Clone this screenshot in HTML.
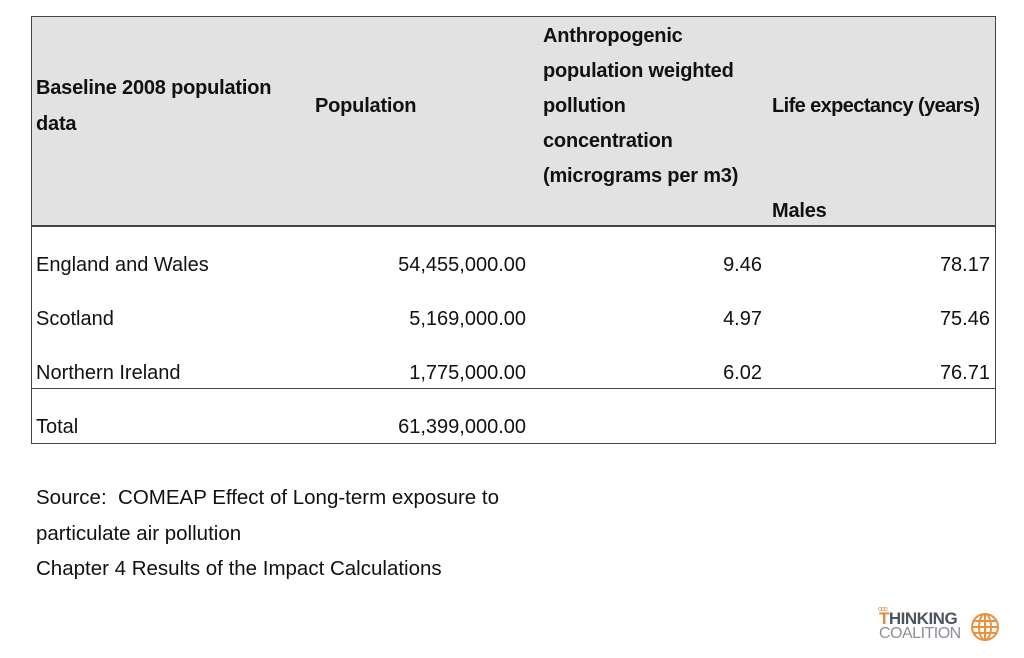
<!DOCTYPE html>
<html><head><meta charset="utf-8"><style>
body{margin:0;width:1024px;height:658px;background:#fff;position:relative;overflow:hidden;font-family:"Liberation Sans",sans-serif;color:#111}
.t{position:absolute;white-space:nowrap;font-size:20px;line-height:20px}
.b{font-weight:bold;font-size:20px;letter-spacing:-0.2px}
.r{text-align:right}
</style></head><body>
<div style="position:absolute;left:31px;top:16px;width:963px;height:426px;border:1px solid #444"></div>
<div style="position:absolute;left:32px;top:17px;width:963px;height:208px;background:#e2e2e2;border-bottom:2px solid #444"></div>
<div style="position:absolute;left:32px;top:388px;width:963px;height:1px;background:#444"></div>

<div class="t b" style="left:36px;top:78px">Baseline 2008 population</div>
<div class="t b" style="left:36px;top:114px">data</div>
<div class="t b" style="left:315px;top:96px">Population</div>
<div class="t b" style="left:543px;top:19px;line-height:35px">Anthropogenic<br>population weighted<br>pollution<br>concentration<br>(micrograms per m3)</div>
<div class="t b" style="left:772px;top:96px;letter-spacing:-0.6px">Life expectancy (years)</div>
<div class="t b" style="left:772px;top:201px">Males</div>

<div class="t" style="left:36px;top:255px">England and Wales</div>
<div class="t r" style="right:498px;top:255px">54,455,000.00</div>
<div class="t r" style="right:262px;top:255px">9.46</div>
<div class="t r" style="right:34px;top:255px">78.17</div>

<div class="t" style="left:36px;top:309px">Scotland</div>
<div class="t r" style="right:498px;top:309px">5,169,000.00</div>
<div class="t r" style="right:262px;top:309px">4.97</div>
<div class="t r" style="right:34px;top:309px">75.46</div>

<div class="t" style="left:36px;top:363px">Northern Ireland</div>
<div class="t r" style="right:498px;top:363px">1,775,000.00</div>
<div class="t r" style="right:262px;top:363px">6.02</div>
<div class="t r" style="right:34px;top:363px">76.71</div>

<div class="t" style="left:36px;top:417px">Total</div>
<div class="t r" style="right:498px;top:417px">61,399,000.00</div>

<div class="t" style="left:36px;top:480px;line-height:35.5px;font-size:20.5px">Source:&nbsp; COMEAP Effect of Long-term exposure to<br>particulate air pollution<br>Chapter 4 Results of the Impact Calculations</div>

<div style="position:absolute;left:876px;top:606px;width:130px;height:40px">
<div style="position:absolute;left:2px;top:0;font-size:7px;color:#e08a3c;letter-spacing:-1px">ooo</div>
<div style="position:absolute;left:3px;top:4px;font-size:17px;line-height:17px;font-weight:bold;color:#4a5560;letter-spacing:-0.5px"><span style="color:#e08a3c">T</span>HINKING</div>
<div style="position:absolute;left:3px;top:20px;font-size:16px;line-height:16px;color:#8a9096;letter-spacing:-0.5px">COALITION</div>
<svg style="position:absolute;left:94px;top:6px" width="30" height="30" viewBox="0 0 30 30"><g fill="none" stroke="#e8913f" stroke-width="2"><circle cx="15" cy="15" r="13"/><ellipse cx="15" cy="15" rx="6" ry="13"/><line x1="2" y1="15" x2="28" y2="15"/><line x1="15" y1="2" x2="15" y2="28"/><line x1="4" y1="9" x2="26" y2="9"/><line x1="4" y1="21" x2="26" y2="21"/></g></svg>
</div>
</body></html>
